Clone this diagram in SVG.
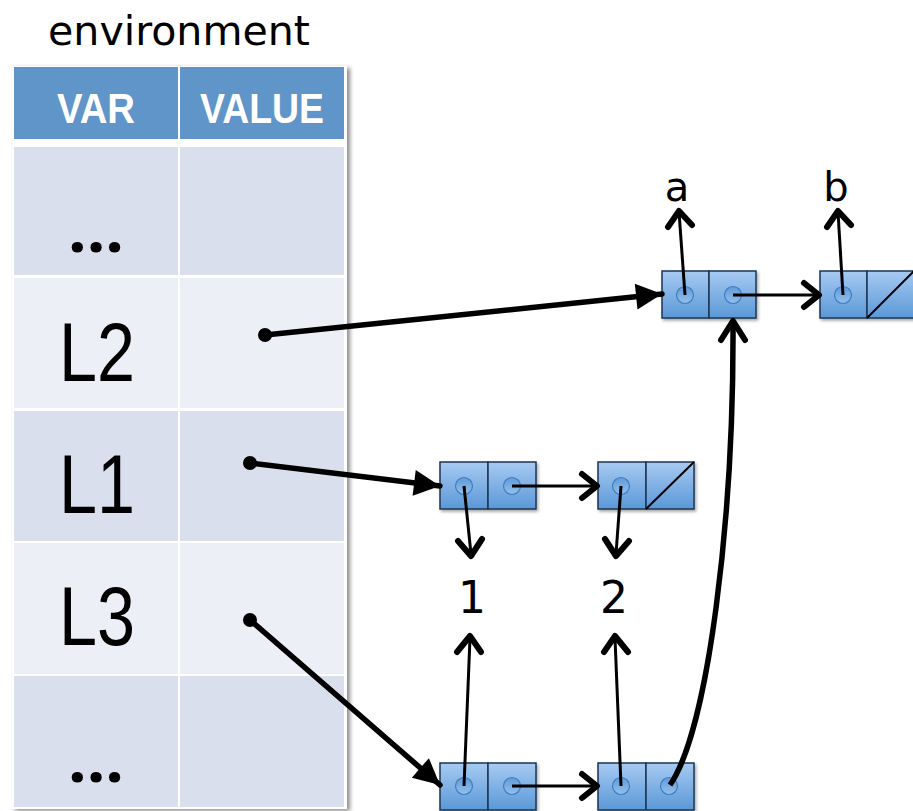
<svg xmlns="http://www.w3.org/2000/svg" width="913" height="811" viewBox="0 0 913 811">
<style>
.hdr{fill:#5F95C9}
.dark{fill:#D9DFEC}
.light{fill:#ECEFF5}
.big{font-family:"Liberation Sans",Arial,sans-serif;font-size:84px;fill:#000}
.hd{font-family:"Liberation Sans",Arial,sans-serif;font-size:42px;font-weight:bold;fill:#fff}
.lbl{font-family:"DejaVu Sans","Liberation Sans",sans-serif;fill:#000}
.dots{font-family:"Open Sans","DejaVu Sans",sans-serif;font-size:62px;font-weight:bold;fill:#000}
.cell{fill:url(#cg);stroke:#1E3552;stroke-width:1.5}
.dot{fill:url(#dg);stroke:#3E7DBE;stroke-width:1.2}
.thin{fill:none;stroke:#000;stroke-width:3}
.thick{fill:none;stroke:#000;stroke-width:5.5;stroke-linecap:round}
.chev{fill:none;stroke:#000;stroke-width:6;stroke-linecap:round;stroke-linejoin:round}
</style>
<defs>
<linearGradient id="cg" x1="0" y1="0" x2="0" y2="1">
<stop offset="0" stop-color="#A7CAF2"/>
<stop offset="1" stop-color="#5A98D7"/>
</linearGradient>
<linearGradient id="dg" x1="0" y1="0" x2="0" y2="1">
<stop offset="0" stop-color="#5F9BD8"/>
<stop offset="1" stop-color="#94C0EC"/>
</linearGradient>
<filter id="sh" x="-10%" y="-10%" width="130%" height="130%">
<feDropShadow dx="3" dy="2" stdDeviation="2" flood-color="#000" flood-opacity="0.45"/>
</filter>
<filter id="csh" x="-10%" y="-10%" width="130%" height="140%">
<feDropShadow dx="1.5" dy="2" stdDeviation="1.5" flood-color="#000" flood-opacity="0.35"/>
</filter>
<marker id="tri" markerUnits="userSpaceOnUse" markerWidth="30" markerHeight="28" refX="26" refY="13" orient="auto" overflow="visible">
<path d="M0,0 L26,13 L0,26 Z" fill="#000"/>
</marker>
</defs>

<text class="lbl" x="48" y="45" font-size="41" textLength="262" lengthAdjust="spacingAndGlyphs">environment</text>

<g id="table" filter="url(#sh)">
<rect x="12" y="66" width="335" height="743" fill="#fff"/>
<rect class="hdr" x="14" y="67" width="164" height="72"/>
<rect class="hdr" x="180" y="67" width="164" height="72"/>
<rect class="dark" x="14" y="147" width="164" height="128"/>
<rect class="dark" x="180" y="147" width="164" height="128"/>
<rect class="light" x="14" y="278" width="164" height="130"/>
<rect class="light" x="180" y="278" width="164" height="130"/>
<rect class="dark" x="14" y="411" width="164" height="130"/>
<rect class="dark" x="180" y="411" width="164" height="130"/>
<rect class="light" x="14" y="543" width="164" height="131"/>
<rect class="light" x="180" y="543" width="164" height="131"/>
<rect class="dark" x="14" y="676" width="164" height="131"/>
<rect class="dark" x="180" y="676" width="164" height="131"/>
</g>
<g id="table-text">
<text class="hd" x="57" y="123" textLength="78" lengthAdjust="spacingAndGlyphs">VAR</text>
<text class="hd" x="200" y="123" textLength="124" lengthAdjust="spacingAndGlyphs">VALUE</text>
<text class="dots" x="68" y="252" textLength="56" lengthAdjust="spacingAndGlyphs">...</text>
<text class="big" x="59" y="381" textLength="76" lengthAdjust="spacingAndGlyphs">L2</text>
<text class="big" x="59" y="513" textLength="76" lengthAdjust="spacingAndGlyphs">L1</text>
<text class="big" x="59" y="645" textLength="76" lengthAdjust="spacingAndGlyphs">L3</text>
<text class="dots" x="68" y="782" textLength="56" lengthAdjust="spacingAndGlyphs">...</text>
</g>

<g id="cellA" filter="url(#csh)">
<rect class="cell" x="662" y="271" width="47" height="47"/>
<rect class="cell" x="709" y="271" width="47" height="47"/>
<circle class="dot" cx="685" cy="295" r="8.5"/>
<circle class="dot" cx="733" cy="295" r="8.5"/>
</g>
<g id="cellB" filter="url(#csh)">
<rect class="cell" x="820" y="271" width="47" height="47"/>
<rect class="cell" x="867" y="271" width="47" height="47"/>
<path d="M867,318 L914,271" stroke="#000" stroke-width="2"/>
<circle class="dot" cx="843" cy="295" r="8.5"/>
</g>
<g id="cellL1a" filter="url(#csh)">
<rect class="cell" x="440" y="462" width="48" height="47"/>
<rect class="cell" x="488" y="462" width="48" height="47"/>
<circle class="dot" cx="464" cy="486" r="8.5"/>
<circle class="dot" cx="512" cy="486" r="8.5"/>
</g>
<g id="cellL1b" filter="url(#csh)">
<rect class="cell" x="598" y="462" width="48" height="47"/>
<rect class="cell" x="646" y="462" width="48" height="47"/>
<path d="M646,509 L694,462" stroke="#000" stroke-width="2"/>
<circle class="dot" cx="621" cy="486" r="8.5"/>
</g>
<g id="cellL3a" filter="url(#csh)">
<rect class="cell" x="440" y="763" width="48" height="47"/>
<rect class="cell" x="488" y="763" width="48" height="47"/>
<circle class="dot" cx="464" cy="786" r="8.5"/>
<circle class="dot" cx="512" cy="786" r="8.5"/>
</g>
<g id="cellL3b" filter="url(#csh)">
<rect class="cell" x="598" y="763" width="48" height="47"/>
<rect class="cell" x="646" y="763" width="48" height="47"/>
<circle class="dot" cx="621" cy="786" r="8.5"/>
<circle class="dot" cx="669" cy="786" r="8.5"/>
</g>

<g id="labels">
<text class="lbl" x="677" y="201" font-size="40" text-anchor="middle">a</text>
<text class="lbl" x="836" y="201" font-size="40" text-anchor="middle">b</text>
<text class="lbl" x="472" y="613" font-size="44" text-anchor="middle">1</text>
<text class="lbl" x="614" y="613" font-size="44" text-anchor="middle">2</text>
</g>

<g id="connectors">
<circle cx="265" cy="335" r="7" fill="#000"/>
<circle cx="250" cy="463" r="7" fill="#000"/>
<circle cx="250" cy="620" r="7" fill="#000"/>
<path class="thick" d="M265,335 L662,294" marker-end="url(#tri)"/>
<path class="thick" d="M250,463 L440,486" marker-end="url(#tri)"/>
<path class="thick" d="M250,620 L440,785" marker-end="url(#tri)"/>
<path class="thin" d="M685,295 L679,212"/>
<path class="chev" d="M668,227 L679,211 L692,225"/>
<path class="thin" d="M843,295 L838,212"/>
<path class="chev" d="M827,227 L838,211 L851,225"/>
<path class="thin" d="M733,295 L818,295"/>
<path class="chev" d="M804,283 L819,295 L804,307"/>
<path class="thin" d="M512,486 L596,486"/>
<path class="chev" d="M582,474 L597,486 L582,498"/>
<path class="thin" d="M464,486 L471,554"/>
<path class="chev" d="M458,541 L471,556 L482,539"/>
<path class="thin" d="M621,486 L616,554"/>
<path class="chev" d="M605,539 L616,556 L629,541"/>
<path class="thin" d="M464,786 L470,638"/>
<path class="chev" d="M457,652 L470,636 L481,652"/>
<path class="thin" d="M512,786 L596,786"/>
<path class="chev" d="M582,774 L597,786 L582,798"/>
<path class="thin" d="M621,786 L615,638"/>
<path class="chev" d="M604,652 L615,636 L628,652"/>
<path d="M670,785 C708,730 734,520 733,323" fill="none" stroke="#000" stroke-width="5.5"/>
<path class="chev" d="M721,340 L733,321 L745,340"/>
</g>
</svg>
